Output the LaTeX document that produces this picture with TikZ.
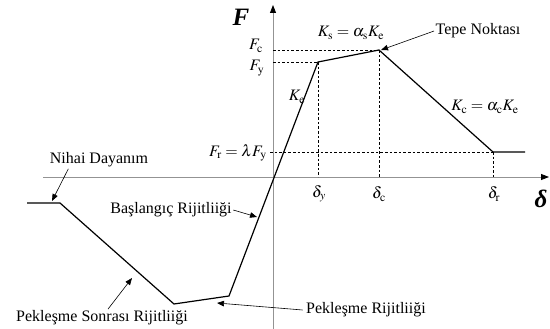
\documentclass[tikz,border=0pt]{standalone}
\usepackage{mathptmx}
\usepackage{fontspec}
\setmainfont{Liberation Serif}
\usetikzlibrary{arrows.meta}

\begin{document}
\begin{tikzpicture}[x=1pt,y=-1pt,line width=1.2pt,>={Triangle[length=7pt,width=5.5pt]},
  eksen/.style={gray!85,line width=0.9pt},
  kesik/.style={line width=0.7pt,dash pattern=on 2.6pt off 2pt},
  etiket/.style={font=\fontsize{16}{18}\selectfont,inner sep=1pt},
  ok/.style={->,line width=0.6pt}]
  \useasboundingbox (0,0) rectangle (550,329);
  % eksenler
  \coordinate (xs) at (43,177);  \coordinate (xe) at (549,177);
  \coordinate (ys) at (273,329); \coordinate (ye) at (273,5);
  \draw[eksen,-{Triangle[length=8pt,width=6pt,color=black]}] (xs)--(xe);
  \draw[eksen,-{Triangle[length=8pt,width=6pt,color=black]}] (ys)--(ye);
  % egri noktalari
  \coordinate (N1) at (27,203);  \coordinate (N2) at (60,203);
  \coordinate (N3) at (174,304); \coordinate (N4) at (229,296);
  \coordinate (Y)  at (318,62);  \coordinate (C)  at (379,50);
  \coordinate (R)  at (493,152); \coordinate (R2) at (525,152);
  \draw[line join=miter] (N1)--(N2)--(N3)--(N4)--(Y)--(C)--(R)--(R2);
  % kesikli cizgiler
  \draw[kesik] (273,50)--(C) (273,62)--(Y) (270,152)--(R);
  \draw[kesik] (Y)--(318,177) (C)--(379,177) (R)--(493,177);
  % etiketler
  \node (F) at (241,17) {\fontsize{25}{27}\selectfont\textbf{\textit{F}}};
  \node[etiket] (Fc) at (256,46) {$F_{\mathrm{c}}$};
  \node[etiket] (Fy) at (257,68) {$F_{\mathrm{y}}$};
  \node[etiket] (Fr) at (238,153) {$F_{\mathrm{r}}=\lambda F_{\mathrm{y}}$};
  \node[etiket] (Ks) at (351,33) {$K_{\mathrm{s}}=\alpha_{\mathrm{s}}K_{\mathrm{e}}$};
  \node[etiket] (Ke) at (297,97) {$K_{\mathrm{e}}$};
  \node[etiket] (Kc) at (485,107) {$K_{\mathrm{c}}=\alpha_{\mathrm{c}}K_{\mathrm{e}}$};
  \node[etiket] (dy) at (319,194) {$\delta_y$};
  \node[etiket] (dc) at (379,194) {$\delta_{\mathrm{c}}$};
  \node[etiket] (dr) at (494,194) {$\delta_{\mathrm{r}}$};
  \node (d) at (541,199) {\fontsize{25}{27}\selectfont\textbf{\textit{δ}}};
  \node[etiket] (tepe) at (478,31) {Tepe Noktası};
  \node[etiket] (nihai) at (99,160) {Nihai Dayanım};
  \node[etiket] (basla) at (171,210) {Başlangıç Rijitliiği};
  \node[etiket] (sonra) at (102,318) {Pekleşme Sonrası Rijitliiği};
  \node[etiket] (pek) at (366,310) {Pekleşme Rijitliiği};
  % oklar
  \coordinate (t1) at (381,50);  \coordinate (n1) at (52,201);
  \coordinate (b1) at (257,217); \coordinate (s1) at (132,278);
  \coordinate (p1) at (217,303);
  \draw[ok] (tepe.west)--(t1);
  \draw[ok] ([xshift=20pt]nihai.south west)--(n1);
  \draw[ok] (basla.east)--(b1);
  \draw[ok] ([xshift=6pt]sonra.north)--(s1);
  \draw[ok] ([xshift=-2pt]pek.west)--(p1);
\end{tikzpicture}
\end{document}
